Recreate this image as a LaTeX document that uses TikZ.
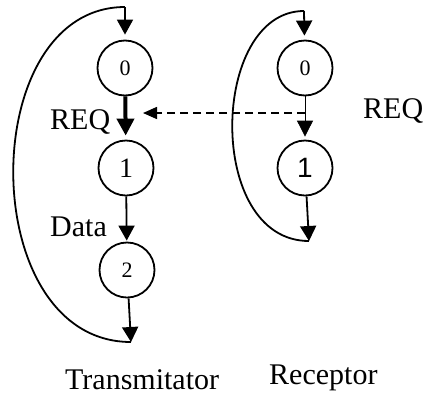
\documentclass[tikz,border=0pt]{standalone}
\usepackage{fontspec}
\setmainfont{Liberation Serif}
\newfontfamily\cifrasans{Liberation Sans}
\usetikzlibrary{
	arrows.meta,
	positioning
}
\tikzstyle{etat} = [circle, draw, line width=1.8pt, minimum size=55pt, inner sep=0pt, font={\fontsize{22}{24}\selectfont}]
\tikzstyle{fleche} = [line width=1.8pt, -{Triangle[length=15pt, width=16pt]}]
\tikzstyle{eticheta} = [inner sep=0pt, anchor=base west, font={\fontsize{30}{32}\selectfont}]

\begin{document}
\begin{tikzpicture}[x=1pt, y=-1pt]
		
		\useasboundingbox (0,0) rectangle (427,394);
		
		% ====== Bloc Transmitator ======
		\node[etat] (t0) at (125,68) {0};
		\node[etat, font={\fontsize{28}{30}\selectfont}] (t1) at (126,168) {1};
		\node[etat] (t2) at (127,270) {2};
		
		\coordinate (ti) at (125,7);
		\coordinate (tf) at (131,342);
		
		\draw[fleche, shorten >=5pt] (ti) -- (t0);
		\draw[line width=4pt, -{Triangle[length=17pt, width=17pt]}, shorten >=4pt] (t0) -- (t1);
		\draw[fleche, shorten >=1pt] (t1) -- (t2);
		\draw[fleche] (t2) -- (tf);
		
		% bucla
		\draw[line width=1.8pt] (tf) .. controls (-25,342) and (-25,7) .. (ti);
		
		% ====== Bloc Receptor ======
		\node[etat] (r0) at (305,68) {0};
		\node[etat, font={\cifrasans\fontsize{28}{30}\selectfont}] (r1) at (305,168) {1};
		
		\coordinate (ri) at (304,11);
		\coordinate (rf) at (309,241);
		
		\draw[fleche, shorten >=4pt] (ri) -- (r0);
		\draw[line width=0.8pt, -{Triangle[length=16pt, width=16pt]}, shorten >=3pt] (r0) -- (r1);
		\draw[fleche] (r1) -- (rf);
		
		% bucla
		\draw[line width=1.8pt] (rf) .. controls (205,241) and (210,11) .. (ri);
		
		% ====== Semnal REQ ======
		\coordinate (rq) at (305,113);
		\coordinate (tq) at (143,113);
		\draw[line width=1.5pt, dash pattern=on 8pt off 5pt, -{Triangle[length=14pt, width=12pt]}] (rq) -- (tq);
		
		% ====== Etichete ======
		\node[eticheta] (lreq) at (50,129) {REQ};
		\node[eticheta] (ldata) at (50,236) {Data};
		\node[eticheta] (rreq) at (363,118) {REQ};
		\node[eticheta] (ltrans) at (65,389) {Transmitator};
		\node[eticheta] (lrec) at (269,384) {Receptor};
		
	\end{tikzpicture}
\end{document}
